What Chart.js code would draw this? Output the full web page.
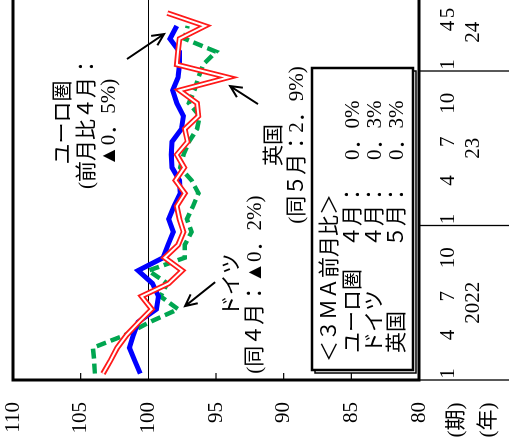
<!DOCTYPE html>
<html>
<head>
<meta charset="utf-8">
<script src="https://cdn.jsdelivr.net/npm/chart.js@4"></script>
<style>
  html, body { margin: 0; padding: 0; background: #fff; overflow: hidden; }
  #page { position: relative; width: 509px; height: 447px; overflow: hidden; }
  /* the chart is drawn upright and then turned a quarter turn to the left */
  #turn { position: absolute; left: 0; top: 0; width: 460px; height: 509px;
          transform-origin: 0 0; transform: translate(0, 447px) rotate(-90deg); }
</style>
</head>
<body>
<div id="page"><div id="turn"><canvas id="chart" width="460" height="509"></canvas></div></div>
<script>
const months = [
    "2022-01", "2022-02", "2022-03", "2022-04", "2022-05", "2022-06",
    "2022-07", "2022-08", "2022-09", "2022-10", "2022-11", "2022-12",
    "2023-01", "2023-02", "2023-03", "2023-04", "2023-05", "2023-06",
    "2023-07", "2023-08", "2023-09", "2023-10", "2023-11", "2023-12",
    "2024-01", "2024-02", "2024-03", "2024-04", "2024-05", "2024-06",
];
const monthTicks = [
    "1", "", "", "4", "", "", "7", "", "", "10", "", "",
    "1", "", "", "4", "", "", "7", "", "", "10", "", "",
    "1", "", "", "4", "5", "",
];
const yearLabels = ["2022", "23", "24"];

// 3-month moving average index
const euroArea = [
    100.6, 101.0, 101.4, 101.1, 100.75, 99.4, 99.25, 99.7, 100.75, 98.9, 98.55, 98.15,
    98.5, 98.1, 97.65, 97.7, 98.25, 98.3, 98.25, 97.55, 97.4, 97.9, 98.2, 97.8,
    97.7, 97.7, 98.4, 97.9,
];
const germany = [
    103.95, 104.0, 104.1, 101.7, 99.9, 97.8, 99.1, 98.6, 100.0, 97.3, 97.3, 96.8,
    97.15, 96.7, 96.3, 96.8, 97.65, 97.4, 97.0, 96.4, 96.2, 97.0, 96.6, 96.3,
    95.95, 95.0, 97.3, 97.1,
];
const uk = [
    103.35, 102.8, 102.3, 101.6, 100.7, 99.75, 100.5, 98.5, 97.5, 98.8, 97.8, 97.4,
    97.7, 97.9, 97.3, 98.0, 97.35, 97.9, 97.1, 97.3, 96.3, 96.4, 97.7, 94.1,
    97.9, 97.8, 97.7, 95.8, 98.6,
];

const euroNote = ["ユーロ圏", "(前月比４月：", "▲0．5%)"];
const germanyNote = ["ドイツ", "(同４月：▲0．2%)"];
const ukNote = ["英国", "(同５月：2．9%)"];
const boxTitle = "＜３ＭＡ前月比＞";
const boxNames = ["ユーロ圏", "ドイツ", "英国"];
const boxMonths = ["４月：", "４月：", "５月："];
const boxValues = ["0．0%", "0．3%", "0．3%"];
const axisUnits = ["(期)", "(年)"];

const FAMILY = "'Liberation Serif', 'Noto Sans CJK JP', serif";
const FONT = "21px " + FAMILY;

function arrow(ctx, x1, y1, x2, y2) {
    const a = Math.atan2(y2 - y1, x2 - x1);
    const h = 13;
    ctx.beginPath();
    ctx.moveTo(x1, y1);
    ctx.lineTo(x2, y2);
    ctx.moveTo(x2 - h * Math.cos(a - 0.45), y2 - h * Math.sin(a - 0.45));
    ctx.lineTo(x2, y2);
    ctx.lineTo(x2 - h * Math.cos(a + 0.45), y2 - h * Math.sin(a + 0.45));
    ctx.stroke();
}

const extras = {
    id: "extras",
    afterDraw(chart) {
        const ctx = chart.ctx;
        const area = chart.chartArea;
        const xs = chart.scales.x;
        const ys = chart.scales.y;
        const px = (i) => xs.getPixelForValue(i);
        const py = (v) => ys.getPixelForValue(v);
        ctx.save();
        ctx.fillStyle = "#000";
        ctx.strokeStyle = "#000";

        // inward ticks on the value axis
        ctx.lineWidth = 1.2;
        [85, 90, 95, 105].forEach((v) => {
            ctx.beginPath();
            ctx.moveTo(area.left, py(v));
            ctx.lineTo(area.left + 7, py(v));
            ctx.stroke();
        });

        // frame
        ctx.lineWidth = 3;
        ctx.strokeRect(area.left, area.top, area.right - area.left + 10, area.bottom - area.top);

        // year separators and year labels under the month ticks
        ctx.lineWidth = 1.3;
        const h = chart.height;
        ctx.beginPath();
        ctx.moveTo(area.left, area.bottom);
        ctx.lineTo(area.left, h);
        for (let i = 1; i < months.length; i++) {
            if (months[i].slice(0, 4) !== months[i - 1].slice(0, 4)) {
                const x = (px(i - 1) + px(i)) / 2;
                ctx.moveTo(x, area.bottom);
                ctx.lineTo(x, h);
            }
        }
        ctx.stroke();
        ctx.font = FONT;
        ctx.textAlign = "center";
        ctx.textBaseline = "middle";
        yearLabels.forEach((label, k) => {
            const idx = months.map((m, i) => (m.startsWith(String(2022 + k)) ? i : -1)).filter((i) => i >= 0);
            const x = (px(idx[0]) + px(idx[idx.length - 1])) / 2;
            ctx.fillText(label, x, area.bottom + 54);
        });
        ctx.fillText(axisUnits[0], 27, area.bottom + 37);
        ctx.fillText(axisUnits[1], 27, area.bottom + 69);

        // notes and arrows
        const note = (lines, i, vals) => lines.forEach((t, k) => ctx.fillText(t, px(i), py(vals[k])));
        note(euroNote, 19.5, [106.3, 104.5, 102.9]);
        note(ukNote, 17.75, [90.7, 88.95]);
        note(germanyNote, 6.9, [93.8, 92.05]);
        ctx.lineWidth = 2;
        arrow(ctx, px(24.43), py(101.58), px(26.37), py(98.84));
        arrow(ctx, px(20.93), py(91.9), px(22.33), py(93.96));
        arrow(ctx, px(7.1), py(95.07), px(5.24), py(97.29));

        // legend box with a small shadow
        const bx = area.left + 10, by = 312, bw = 302, bh = 101;
        ctx.lineWidth = 1.5;
        ctx.strokeRect(bx - 3, by + 3, bw, bh);
        ctx.fillStyle = "#fff";
        ctx.fillRect(bx, by, bw, bh);
        ctx.lineWidth = 2.5;
        ctx.strokeRect(bx, by, bw, bh);
        ctx.fillStyle = "#000";
        ctx.textAlign = "left";
        ctx.fillText(boxTitle, bx + 8, by + 18);
        boxNames.forEach((name, k) => {
            const y = by + 41 + k * 22;
            ctx.fillText(name, bx + 17, y);
            ctx.fillText(boxMonths[k], bx + 123, y);
            ctx.fillText(boxValues[k], bx + 210, y);
        });
        ctx.restore();
    },
};

const ctx = document.getElementById("chart").getContext("2d");
const chart = new Chart(ctx, {
    type: "line",
    data: {
        labels: months,
        datasets: [
            { label: "英国", data: uk, borderColor: "#fff", borderWidth: 2, order: 0 },
            { label: "英国", data: uk, borderColor: "#ff1a1a", borderWidth: 5.5, order: 1 },
            { label: "ユーロ圏", data: euroArea, borderColor: "#0000ff", borderWidth: 5, order: 2 },
            { label: "ドイツ", data: germany, borderColor: "#00a650", borderWidth: 4.5, borderDash: [10, 5], order: 3 },
        ],
    },
    options: {
        responsive: false,
        animation: false,
        devicePixelRatio: 1,
        elements: { point: { radius: 0 }, line: { tension: 0, borderJoinStyle: "miter" } },
        layout: { padding: { top: 0, right: 6.75, left: 0, bottom: 0 } },
        scales: {
            x: {
                type: "category",
                offset: true,
                afterFit: (s) => { s.height = 90; s.paddingLeft = 0; s.paddingRight = 0; },
                grid: { display: false },
                border: { display: false },
                ticks: {
                    autoSkip: false,
                    maxRotation: 0,
                    padding: 9,
                    color: "#000",
                    font: { family: FAMILY, size: 21 },
                    callback: (v, i) => monthTicks[i],
                },
            },
            y: {
                min: 80,
                max: 110,
                afterFit: (s) => { s.width = 67; s.paddingTop = 13; s.paddingBottom = 0; },
                grid: {
                    drawTicks: false,
                    color: (c) => (c.tick && c.tick.value === 100 ? "#000" : "rgba(0,0,0,0)"),
                    lineWidth: 1,
                },
                border: { display: false },
                ticks: {
                    stepSize: 5,
                    padding: 22,
                    color: "#000",
                    font: { family: FAMILY, size: 21 },
                },
            },
        },
        plugins: { legend: { display: false }, tooltip: { enabled: false } },
    },
    plugins: [extras],
});
</script>
</body>
</html>
